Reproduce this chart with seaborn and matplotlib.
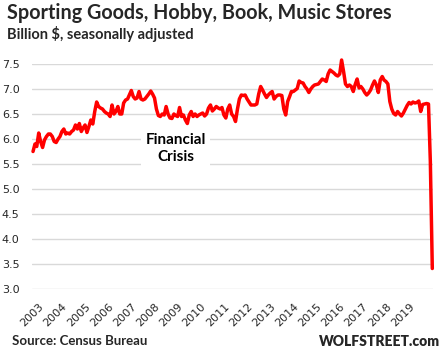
import numpy as np
import pandas as pd
import seaborn as sns
import matplotlib.pyplot as plt

# monthly sales, billion $, seasonally adjusted
y2003 = [5.75, 5.90, 5.85, 6.12, 5.95, 5.83, 5.98, 6.05, 6.10, 6.10, 6.05, 5.95]
y2004 = [5.93, 6.00, 6.05, 6.15, 6.20, 6.10, 6.12, 6.10, 6.15, 6.18, 6.28, 6.20]
y2005 = [6.31, 6.15, 6.22, 6.28, 6.13, 6.25, 6.38, 6.30, 6.55, 6.74, 6.65, 6.62]
y2006 = [6.60, 6.55, 6.52, 6.50, 6.45, 6.68, 6.50, 6.55, 6.65, 6.50, 6.50, 6.72]
y2007 = [6.78, 6.80, 6.88, 6.97, 6.85, 6.80, 6.82, 6.95, 6.80, 6.78, 6.80, 6.85]
y2008 = [6.90, 6.96, 6.90, 6.82, 6.60, 6.47, 6.45, 6.50, 6.48, 6.65, 6.50, 6.42]
y2009 = [6.41, 6.50, 6.47, 6.45, 6.63, 6.45, 6.48, 6.38, 6.31, 6.48, 6.55, 6.45]
y2010 = [6.50, 6.45, 6.48, 6.50, 6.52, 6.46, 6.50, 6.62, 6.68, 6.56, 6.60, 6.65]
y2011 = [6.62, 6.60, 6.63, 6.48, 6.42, 6.60, 6.68, 6.50, 6.45, 6.35, 6.60, 6.80]
y2012 = [6.88, 6.87, 6.88, 6.80, 6.74, 6.68, 6.68, 6.68, 6.70, 6.90, 7.05, 6.98]
y2013 = [6.90, 6.83, 6.88, 6.92, 6.95, 6.80, 6.85, 6.88, 6.88, 6.87, 6.60, 6.48]
y2014 = [6.75, 6.85, 6.95, 6.95, 6.98, 7.01, 7.16, 7.13, 7.12, 7.05, 7.00, 6.93]
y2015 = [7.00, 7.05, 7.08, 7.09, 7.10, 7.15, 7.20, 7.18, 7.15, 7.30, 7.38, 7.35]
y2016 = [7.32, 7.28, 7.26, 7.30, 7.58, 7.35, 7.10, 7.05, 7.08, 7.05, 6.95, 7.09]
y2017 = [7.20, 7.02, 7.05, 7.00, 6.93, 6.88, 6.92, 6.98, 7.08, 7.16, 7.08, 6.93]
y2018 = [7.18, 7.25, 7.18, 7.15, 7.10, 6.75, 6.60, 6.51, 6.48, 6.55, 6.50, 6.46]
y2019 = [6.52, 6.60, 6.67, 6.73, 6.70, 6.74, 6.72, 6.73, 6.76, 6.55, 6.69, 6.70]
y2020 = [6.71, 6.70, 5.55, 3.41]

sales = (y2003 + y2004 + y2005 + y2006 + y2007 + y2008 + y2009 + y2010 + y2011
         + y2012 + y2013 + y2014 + y2015 + y2016 + y2017 + y2018 + y2019 + y2020)
months = pd.date_range('2003-01-01', periods=len(sales), freq='MS')
years = list(range(2003, 2020))
yticks = [3.0, 3.5, 4.0, 4.5, 5.0, 5.5, 6.0, 6.5, 7.0, 7.5]

df = pd.DataFrame({'month': months, 'sales': sales})

sns.set_style('white')
plt.rcParams['font.family'] = ['Lato', 'DejaVu Sans']

fig = plt.figure(figsize=(4.45, 3.53), dpi=100)
ax = fig.add_axes([32 / 445, 1 - 289 / 353, 401 / 445, 225 / 353])
sns.lineplot(data=df, x='month', y='sales', color='#ff0000', linewidth=2.5,
             ax=ax, clip_on=False, zorder=3)

ax.set_ylim(3.0, 7.5)
ax.set_xlim(months[0] - pd.Timedelta(days=16), months[-1] + pd.Timedelta(days=11))
ax.set_yticks(yticks)
ax.set_yticklabels([f'{v:.1f}' for v in yticks], family='DejaVu Sans', fontsize=8)
ax.set_xticks([pd.Timestamp(f'{y}-04-01') for y in years])
ax.set_xticklabels([str(y) for y in years], family='DejaVu Sans', fontsize=8,
                   rotation=45, ha='right', rotation_mode='anchor')
ax.tick_params(axis='y', length=0, pad=9)
ax.tick_params(axis='x', length=0, pad=9)
ax.yaxis.grid(True, color='#d9d9d9', linewidth=1)
ax.xaxis.grid(False)
for s in ax.spines.values():
    s.set_visible(False)
ax.set_xlabel('')
ax.set_ylabel('')

ax.text(pd.Timestamp('2009-03-01'), 5.81, 'Financial\nCrisis', ha='center', va='center',
        fontsize=11, fontweight='bold', color='black', linespacing=1.3,
        bbox=dict(facecolor='white', edgecolor='none', pad=3), zorder=2)

fig.text(7 / 445, 1 - 13 / 353, 'Sporting Goods, Hobby, Book, Music Stores',
         fontsize=14.2, fontweight='bold', va='center', ha='left')
fig.text(7 / 445, 1 - 34 / 353, 'Billion $, seasonally adjusted',
         fontsize=10.5, fontweight='bold', va='center', ha='left')
fig.text(12 / 445, 1 - 341 / 353, 'Source: Census Bureau',
         fontsize=9.5, fontweight='bold', va='center', ha='left')
fig.text(440 / 445, 1 - 341 / 353, 'WOLFSTREET.com',
         fontsize=10, fontweight='heavy', va='center', ha='right')

fig.savefig('out.png', dpi=100)
